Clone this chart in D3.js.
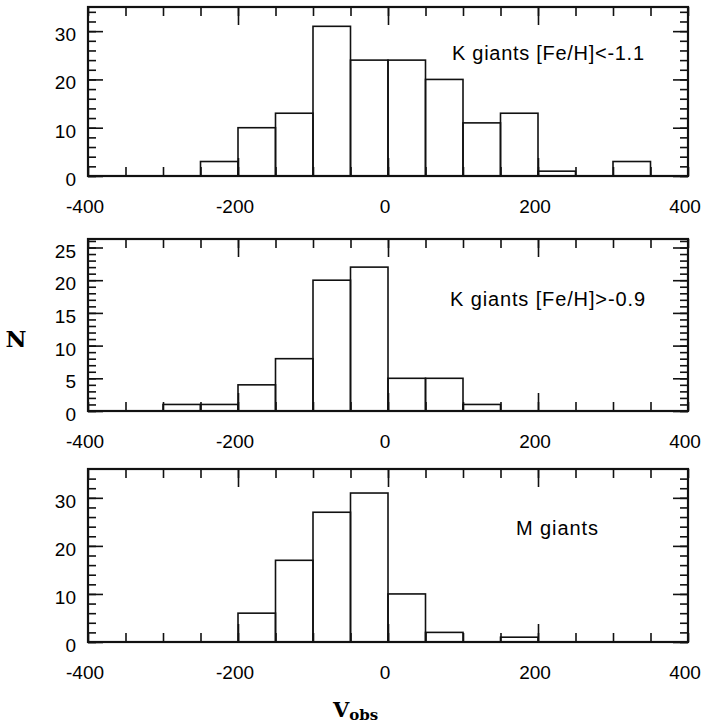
<!DOCTYPE html>
<html>
<head>
<meta charset="utf-8">
<script src="https://cdn.jsdelivr.net/npm/d3@7"></script>
<style>
  body { margin: 0; background: #fff; }
  svg text { font-family: "Liberation Sans", Arial, sans-serif; fill: #000; }
</style>
</head>
<body>
<svg id="vis" width="707" height="728"></svg>
<script>
// bins are 50 km/s wide, given by their left edge
const binStarts = [-300, -250, -200, -150, -100, -50, 0, 50, 100, 150, 200, 250, 300];
const kMetalPoor = [0, 3, 10, 13, 31, 24, 24, 20, 11, 13, 1, 0, 3];
const kMetalRich = [1, 1, 4, 8, 20, 22, 5, 5, 1, 0, 0, 0, 0];
const mGiants = [0, 0, 6, 17, 27, 31, 10, 2, 0, 1, 0, 0, 0];
const binWidth = 50;

const panelLabels = ['K giants [Fe/H]<-1.1', 'K giants [Fe/H]>-0.9', 'M giants'];
const xTickLabels = [-400, -200, 0, 200, 400];
const yTickLabels = [[0, 10, 20, 30], [0, 5, 10, 15, 20, 25], [0, 10, 20, 30]];

const svg = d3.select('#vis');
const left = 88, right = 688;

// layout of the three stacked panels
const panels = [
  { data: kMetalPoor, top: 7, bottom: 176, yMax: 35, minor: 2, labelX: 452, labelY: 60, labelW: 192 },
  { data: kMetalRich, top: 239, bottom: 411, yMax: 26.3, minor: 1, labelX: 450, labelY: 306, labelW: 195 },
  { data: mGiants, top: 469, bottom: 642, yMax: 36, minor: 2, labelX: 516, labelY: 535, labelW: 82 }
];

const x = d3.scaleLinear().domain([-400, 400]).range([left, right]);
const xMinor = d3.range(-400, 401, 50);
const xMajor = [-200, 0, 200];

panels.forEach((p, i) => {
  const y = d3.scaleLinear().domain([0, p.yMax]).range([p.bottom, p.top]);
  const g = svg.append('g');
  const majors = yTickLabels[i];
  const yMinor = d3.range(0, p.yMax, p.minor);

  // bars
  g.selectAll('rect.bar')
    .data(binStarts.map((s, k) => ({ s, n: p.data[k] })).filter(d => d.n > 0))
    .join('rect')
    .attr('class', 'bar')
    .attr('x', d => x(d.s))
    .attr('width', d => x(d.s + binWidth) - x(d.s))
    .attr('y', d => y(d.n))
    .attr('height', d => y(0) - y(d.n))
    .attr('fill', 'none')
    .attr('stroke', '#111')
    .attr('stroke-width', 1.6);

  // inward ticks on all four sides
  const tickAxis = (axis, tx, ty) => {
    const a = g.append('g').attr('transform', `translate(${tx},${ty})`).call(axis);
    a.select('.domain').remove();
    a.selectAll('line').attr('stroke', '#111').attr('stroke-width', 1.6);
    a.selectAll('text').remove();
  };
  tickAxis(d3.axisBottom(x).tickValues(xMinor).tickSize(-9), 0, p.bottom);
  tickAxis(d3.axisBottom(x).tickValues(xMajor).tickSize(-18), 0, p.bottom);
  tickAxis(d3.axisTop(x).tickValues(xMinor).tickSize(-9), 0, p.top);
  tickAxis(d3.axisTop(x).tickValues(xMajor).tickSize(-18), 0, p.top);
  tickAxis(d3.axisLeft(y).tickValues(yMinor).tickSize(-8), left, 0);
  tickAxis(d3.axisLeft(y).tickValues(majors).tickSize(-15), left, 0);
  tickAxis(d3.axisRight(y).tickValues(yMinor).tickSize(-8), right, 0);
  tickAxis(d3.axisRight(y).tickValues(majors).tickSize(-15), right, 0);

  // frame
  g.append('rect')
    .attr('x', left).attr('y', p.top)
    .attr('width', right - left).attr('height', p.bottom - p.top)
    .attr('fill', 'none').attr('stroke', '#111').attr('stroke-width', 2.2);

  // tick labels
  g.selectAll('text.xl').data(xTickLabels).join('text')
    .attr('class', 'xl')
    .attr('x', d => x(d) - 3)
    .attr('y', p.bottom + 37)
    .attr('text-anchor', 'middle')
    .attr('font-size', 19)
    .text(d => d);
  g.selectAll('text.yl').data(majors).join('text')
    .attr('class', 'yl')
    .attr('x', left - 12)
    .attr('y', d => y(d) + 10)
    .attr('text-anchor', 'end')
    .attr('font-size', 19)
    .text(d => d);

  g.append('text')
    .attr('x', p.labelX).attr('y', p.labelY)
    .attr('font-size', 20)
    .attr('textLength', p.labelW)
    .attr('lengthAdjust', 'spacing')
    .text(panelLabels[i]);
});

// axis titles
svg.append('text')
  .attr('x', 16).attr('y', 347)
  .attr('text-anchor', 'middle')
  .style('font-family', '"DejaVu Serif", serif')
  .style('font-weight', 'bold')
  .attr('font-size', 23)
  .text('N');

const vt = svg.append('text')
  .attr('x', 333).attr('y', 717)
  .style('font-family', '"DejaVu Serif", serif')
  .style('font-weight', 'bold')
  .attr('font-size', 21);
vt.append('tspan').text('V');
vt.append('tspan').attr('dy', 3).attr('font-size', 15).text('obs');
</script>
</body>
</html>
